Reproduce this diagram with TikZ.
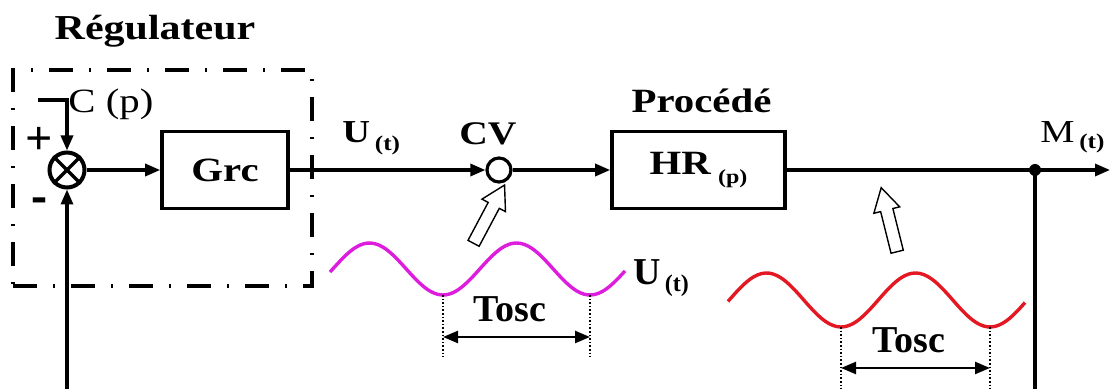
\documentclass[tikz,border=0pt]{standalone}
\usepackage{fontspec}
\setmainfont{Liberation Serif}
\usepackage{graphicx}
\usepackage{xcolor}
\usetikzlibrary{arrows.meta}
\usetikzlibrary{shapes.arrows}
\usetikzlibrary{positioning}
\pgfdeclarelayer{edgelayer}
\pgfdeclarelayer{nodelayer}
\pgfsetlayers{edgelayer,nodelayer,main}
\definecolor{oscm}{RGB}{222,28,222}
\definecolor{oscr}{RGB}{228,24,34}
\newcommand{\hwide}[1]{\scalebox{1.2}[1]{#1}}
\tikzstyle{none}=[inner sep=0mm]
\tikzstyle{lbl}=[inner sep=0mm,font=\bfseries]
\tikzstyle{frame}=[draw,line width=1.6pt,dash pattern=on 12pt off 8pt on 1pt off 8pt,minimum width=149.5pt,minimum height=108pt,inner sep=0pt]
\tikzstyle{blk}=[draw,line width=1.8pt,minimum height=38.5pt,inner sep=0pt,font=\bfseries]
\tikzstyle{sum}=[draw,circle,line width=2pt,minimum size=17.5pt,inner sep=0pt]
\tikzstyle{cv}=[draw,circle,line width=1.6pt,minimum size=12pt,inner sep=0pt]
\tikzstyle{bdot}=[circle,fill=black,inner sep=0pt,minimum size=6pt]
\tikzstyle{fat}=[single arrow,draw,fill=white,line width=0.7pt,minimum height=33pt,single arrow head extend=3.5pt,single arrow tip angle=60,inner sep=2.8pt]
\tikzstyle{wire}=[line width=1.6pt]
\tikzstyle{tick}=[densely dotted,line width=0.8pt]
\tikzstyle{span}=[<->,line width=1.2pt]

\begin{document}
\begin{tikzpicture}[x=0.5pt,y=-0.5pt,>={Triangle[length=7.5pt,width=6pt]}]
	\useasboundingbox (0, 0) rectangle (1115, 389);
	\begin{pgfonlayer}{nodelayer}
		\node [style=frame] (0) at (162.5, 178) {};
		\node [style=lbl, anchor=base] (1) at (155, 40) {\fontsize{17.5}{20}\selectfont\hwide{Régulateur}};
		\node [style=sum] (2) at (67, 170) {};
		\node [style=blk, minimum width=63pt] (3) at (225, 170) {\fontsize{17}{20}\selectfont\hwide{Grc}};
		\node [style=cv] (4) at (499, 170) {};
		\node [style=blk, minimum width=86.5pt] (5) at (698.5, 170) {\fontsize{17}{20}\selectfont\hwide{HR\kern3pt\raisebox{-4.8pt}{\fontsize{10}{12}\selectfont (p)}}};
		\node [style=bdot] (6) at (1035, 170) {};
		\node [style=none] (7) at (38, 100) {};
		\node [style=none] (8) at (1110, 170) {};
		\node [style=none] (9) at (1035, 389) {};
		\node [style=none] (10) at (67, 389) {};
		\node [style=none] (11) at (443, 295) {};
		\node [style=none] (12) at (443, 357) {};
		\node [style=none] (13) at (590, 295) {};
		\node [style=none] (14) at (590, 357) {};
		\node [style=none] (15) at (443, 337) {};
		\node [style=none] (16) at (590, 337) {};
		\node [style=none] (17) at (841, 327) {};
		\node [style=none] (18) at (841, 389) {};
		\node [style=none] (19) at (990, 327) {};
		\node [style=none] (20) at (990, 389) {};
		\node [style=none] (21) at (841, 368) {};
		\node [style=none] (22) at (990, 368) {};
		\node [style=lbl, anchor=base] (23) at (488, 145) {\fontsize{16.5}{20}\selectfont\hwide{CV}};
		\node [style=lbl, anchor=base west] (24) at (342, 143) {\fontsize{16}{20}\selectfont\hwide{U\kern2pt\raisebox{-3.75pt}{\fontsize{10.5}{12}\selectfont (t)}}};
		\node [style=lbl, anchor=base] (25) at (701.5, 113) {\fontsize{17}{20}\selectfont\hwide{Procédé}};
		\node [style=none, anchor=base west] (26) at (1040, 143) {\fontsize{16}{18}\selectfont\hwide{M\kern2pt\raisebox{-2.75pt}{\fontsize{10.5}{12}\selectfont\bfseries (t)}}};
		\node [style=lbl, anchor=base west] (27) at (633, 285) {\fontsize{19}{22}\selectfont U\kern2pt\raisebox{-3.5pt}{\fontsize{12}{14}\selectfont (t)}};
		\node [style=lbl, anchor=base] (28) at (510, 322) {\fontsize{19}{22}\selectfont Tosc};
		\node [style=lbl, anchor=base] (29) at (909, 353) {\fontsize{19}{22}\selectfont Tosc};
		\node [style=none, anchor=base west] (30) at (68, 113) {\fontsize{17}{20}\selectfont\hwide{C (p)}};
		\node [style=lbl] (31) at (39, 141) {\fontsize{24}{26}\selectfont +};
		\node [style=lbl] (32) at (39, 206) {\scalebox{1.2}[1.5]{\fontsize{20}{22}\selectfont -}};
		\node [style=fat, rotate=62] (33) at (486.5, 219) {};
		\node [style=fat, rotate=104] (34) at (890.5, 225) {};
	\end{pgfonlayer}
	\begin{pgfonlayer}{edgelayer}
		\draw [style=wire, ->] (7.center) -| (2);
		\draw [style=wire] (2.north west) -- (2.south east);
		\draw [style=wire] (2.north east) -- (2.south west);
		\draw [style=wire, ->] (2) -- (3);
		\draw [style=wire, ->] (3) -- (4);
		\draw [style=wire, ->] (4) -- (5);
		\draw [style=wire, ->] (5) -- (8.center);
		\draw [style=wire] (6.center) -- (9.center);
		\draw [style=wire, ->] (10.center) -- (2);
		% oscillations
		\draw [oscm, line width=1.7pt, domain=330:625, samples=80, smooth] plot (\x, {269-26*cos(2.449*(\x-369.5))});
		\draw [oscr, line width=1.7pt, domain=728:1025, samples=80, smooth] plot (\x, {300-27*cos(2.416*(\x-766.5))});
		\draw [style=tick] (11.center) to (12.center);
		\draw [style=tick] (13.center) to (14.center);
		\draw [style=span] (15.center) to (16.center);
		\draw [style=tick] (17.center) to (18.center);
		\draw [style=tick] (19.center) to (20.center);
		\draw [style=span] (21.center) to (22.center);
	\end{pgfonlayer}
\end{tikzpicture}
\end{document}
